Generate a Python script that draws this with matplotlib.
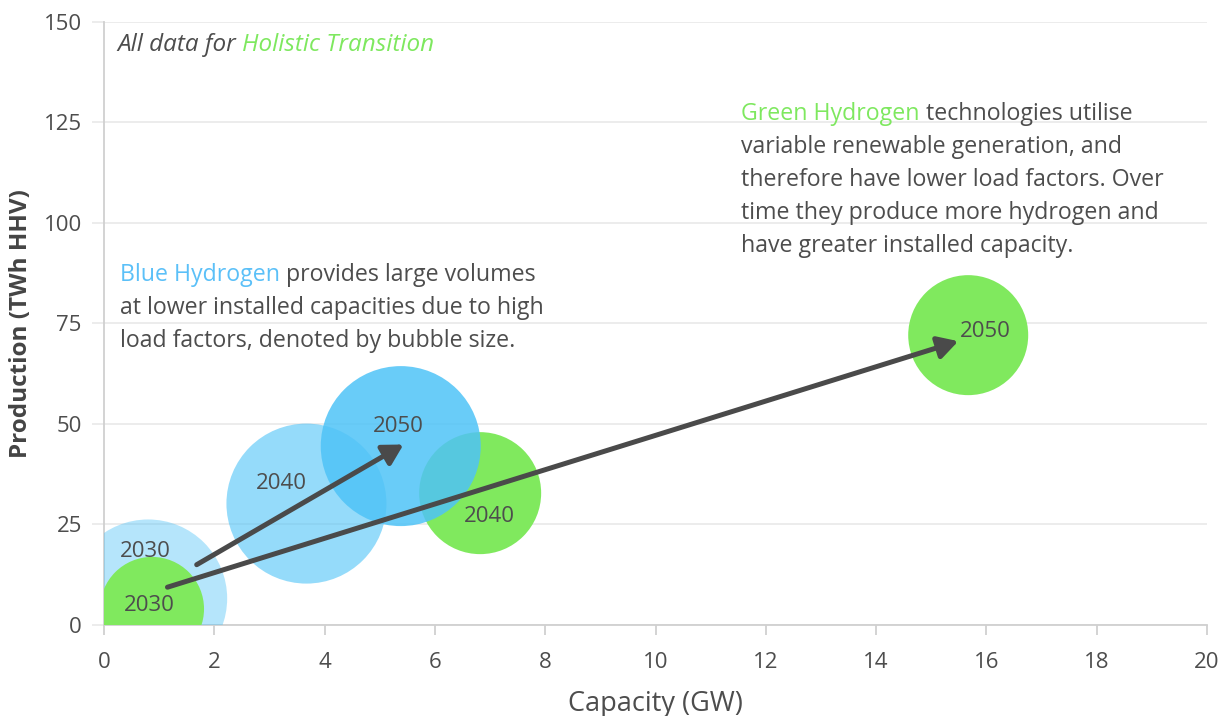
import matplotlib
matplotlib.use('Agg')
import matplotlib.pyplot as plt

# bubble data (capacity GW, production TWh HHV, bubble radius px)
years = ['2030', '2040', '2050']
blue_cap = [0.80, 3.67, 5.38]
blue_prod = [6.6, 30.2, 44.5]
blue_r = [79, 80, 80]
green_cap = [0.87, 6.82, 15.67]
green_prod = [4.0, 32.8, 72.1]
green_r = [52, 61, 60]

# trend arrows (tail, head)
blue_arrow = [(1.68, 15.0), (5.43, 44.9)]
green_arrow = [(1.15, 9.4), (15.49, 70.6)]

x_ticks = [0, 2, 4, 6, 8, 10, 12, 14, 16, 18, 20]
y_ticks = [0, 25, 50, 75, 100, 125, 150]

FONT = 'Open Sans'
DARK = '#4d4d4d'
BLUE = '#4fc3f7'
GREEN = '#80e95e'
GREEN_TXT = '#7ee85f'
BLUE_TXT = '#5bc0f8'
DPI = 100
NOTE_FS = 16.7
LINE_H = 0.0547


def size_of(r):
    # radius in px -> scatter area in pt^2
    d = 2 * r * 72.0 / DPI
    return d * d


def colored_line(ax, x, y, parts, **kw):
    # write pieces of text one after the other with different colours
    first = ax.text(x, y, parts[0][0], color=parts[0][1], transform=ax.transAxes,
                    va='baseline', ha='left', **kw)
    prev = first
    for txt, col in parts[1:]:
        prev = ax.annotate(txt, xy=(1, 0), xycoords=prev, va='bottom', ha='left',
                           color=col, **kw)
    return first


plt.rcParams['font.family'] = [FONT, 'DejaVu Sans']
fig = plt.figure(figsize=(12.27, 7.16), dpi=DPI)
ax = fig.add_axes([0.0848, 0.1271, 0.8989, 0.8422])

ax.set_xlim(0, 20)
ax.set_ylim(0, 150)

# blue bubbles, lighter for earlier years
blue_alpha = [0.42, 0.6, 0.85]
for i in range(3):
    ax.scatter(blue_cap[i], blue_prod[i], s=size_of(blue_r[i]), color=BLUE,
               alpha=blue_alpha[i], edgecolors='none', zorder=3)
# green bubbles
green_z = [4, 2, 2]
for i in range(3):
    ax.scatter(green_cap[i], green_prod[i], s=size_of(green_r[i]), color=GREEN,
               edgecolors='none', zorder=green_z[i])

# year labels (offsets in px from the bubble centre)
blue_off = [(-3, 47), (-25, 20), (-2, 20)]
green_off = [(-3, 3), (9, -23), (17, 4)]
for i in range(3):
    ax.annotate(years[i], (blue_cap[i], blue_prod[i]), xytext=blue_off[i],
                textcoords='offset pixels', ha='center', va='center',
                fontsize=16, color=DARK, zorder=6)
    ax.annotate(years[i], (green_cap[i], green_prod[i]), xytext=green_off[i],
                textcoords='offset pixels', ha='center', va='center',
                fontsize=16, color=DARK, zorder=6)

for tail, head in [blue_arrow, green_arrow]:
    ax.annotate('', xy=head, xytext=tail,
                arrowprops=dict(arrowstyle='-|>,head_length=0.8,head_width=0.45',
                                color='#4a4a4a', lw=3.6, mutation_scale=15,
                                shrinkA=0, shrinkB=0),
                zorder=5)

# axes styling
ax.set_xticks(x_ticks)
ax.set_yticks(y_ticks)
ax.grid(axis='y', color='#ebebeb', lw=1.3)
ax.set_axisbelow(True)
for s in ['top', 'right']:
    ax.spines[s].set_visible(False)
for s in ['left', 'bottom']:
    ax.spines[s].set_color('#d0d0d0')
    ax.spines[s].set_linewidth(1.3)
ax.tick_params(axis='x', colors='#d0d0d0', length=7, width=1.3, labelcolor=DARK,
               labelsize=16, pad=12.5)
ax.tick_params(axis='y', colors='#ebebeb', length=9, width=1.3, labelcolor=DARK,
               labelsize=16, pad=7)

ax.set_xlabel('Capacity (GW)', fontsize=19.5, color=DARK, labelpad=12)
ax.set_ylabel('Production (TWh HHV)', fontsize=17.5, color='#444444',
              fontweight='bold')
ax.yaxis.set_label_coords(-0.064, 0.5)

# notes
colored_line(ax, 0.012, 0.952, [('All data for ', DARK), ('Holistic Transition', GREEN_TXT)],
             fontsize=17.5, fontstyle='italic')

blue_lines = ['at lower installed capacities due to high',
              'load factors, denoted by bubble size.']
colored_line(ax, 0.0145, 0.5705, [('Blue Hydrogen', BLUE_TXT),
                                  (' provides large volumes', DARK)], fontsize=NOTE_FS)
for k, line in enumerate(blue_lines):
    ax.text(0.0145, 0.5705 - (k + 1) * LINE_H, line, transform=ax.transAxes,
            fontsize=NOTE_FS, color=DARK, va='baseline')

green_lines = ['variable renewable generation, and',
               'therefore have lower load factors. Over',
               'time they produce more hydrogen and',
               'have greater installed capacity.']
colored_line(ax, 0.5775, 0.838, [('Green Hydrogen', GREEN_TXT),
                                 (' technologies utilise', DARK)], fontsize=NOTE_FS)
for k, line in enumerate(green_lines):
    ax.text(0.5775, 0.838 - (k + 1) * LINE_H, line, transform=ax.transAxes,
            fontsize=NOTE_FS, color=DARK, va='baseline')

fig.savefig('out.png', dpi=DPI)
